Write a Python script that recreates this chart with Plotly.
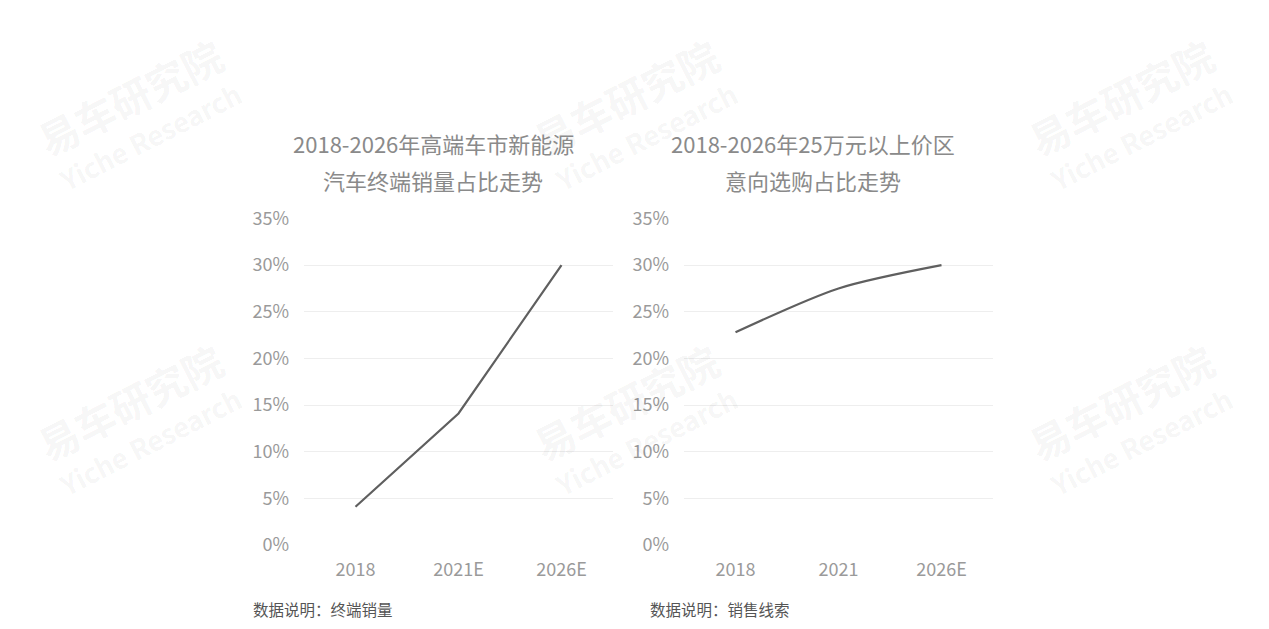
import plotly.graph_objects as go

# Data
left_categories = ["2018", "2021E", "2026E"]
left_values = [0.041, 0.141, 0.30]
right_categories = ["2018", "2021", "2026E"]
right_values = [0.228, 0.275, 0.30]
y_ticks = [0, 0.05, 0.10, 0.15, 0.20, 0.25, 0.30, 0.35]
y_tick_labels = ["0%", "5%", "10%", "15%", "20%", "25%", "30%", "35%"]
left_title = ["2018-2026年高端车市新能源", "汽车终端销量占比走势"]
right_title = ["2018-2026年25万元以上价区", "意向选购占比走势"]
left_note = "数据说明：终端销量"
right_note = "数据说明：销售线索"

W, H = 1269, 629
FONT = "Noto Sans CJK SC"

fig = go.Figure()
fig.add_trace(go.Scatter(x=left_categories, y=left_values, mode="lines",
                         line=dict(color="#5f5f5f", width=2.2),
                         xaxis="x", yaxis="y", showlegend=False, hoverinfo="skip"))
fig.add_trace(go.Scatter(x=right_categories, y=right_values, mode="lines",
                         line=dict(color="#5f5f5f", width=2.2, shape="spline", smoothing=0.8),
                         xaxis="x2", yaxis="y2", showlegend=False, hoverinfo="skip"))

def px_x(v):
    return v / W

def px_y(v):
    return 1 - v / H

ydom = [px_y(545), px_y(218.5)]
yax = dict(range=[0, 0.35], tickvals=y_ticks, ticktext=y_tick_labels,
           showgrid=True, gridcolor="#eeeeee", gridwidth=1, zeroline=False,
           showline=False, ticks="", ticklabelstandoff=14, automargin=False,
           tickfont=dict(family=FONT, size=18, color="#9a9a9a"), domain=ydom,
           fixedrange=True)
xax = dict(type="category", range=[-0.5, 2.5], showgrid=False, zeroline=False,
           showline=False, ticks="", ticklabelstandoff=12, automargin=False,
           tickfont=dict(family=FONT, size=18, color="#9a9a9a"), fixedrange=True)

annotations = []
# Watermarks
for cx in [130, 626, 1121]:
    for cy in [97, 402]:
        annotations.append(dict(
            x=px_x(cx), y=px_y(cy), xref="paper", yref="paper",
            text="<b>易车研究院</b>", showarrow=False, textangle=-27,
            font=dict(family=FONT, size=40, color="rgba(0,0,0,0.055)"),
            xanchor="center", yanchor="middle"))
        annotations.append(dict(
            x=px_x(cx + 20), y=px_y(cy + 39), xref="paper", yref="paper",
            text="<b>Yiche Research</b>", showarrow=False, textangle=-27,
            font=dict(family=FONT, size=27, color="rgba(0,0,0,0.055)"),
            xanchor="center", yanchor="middle"))

# Titles
for cx, lines in [(433, left_title), (813, right_title)]:
    for ly, t in zip([143, 180], lines):
        annotations.append(dict(x=px_x(cx), y=px_y(ly), xref="paper", yref="paper",
                                text=t, showarrow=False,
                                font=dict(family=FONT, size=22, color="#8a8a8a"),
                                xanchor="center", yanchor="middle"))

# Notes
for nx, t in [(251, left_note), (648, right_note)]:
    annotations.append(dict(x=px_x(nx), y=px_y(609), xref="paper", yref="paper",
                            text=t, showarrow=False,
                            font=dict(family=FONT, size=15.5, color="#555555"),
                            xanchor="left", yanchor="middle"))

fig.update_layout(
    width=W, height=H,
    margin=dict(l=0, r=0, t=0, b=0, autoexpand=False),
    paper_bgcolor="white", plot_bgcolor="white",
    xaxis=dict(xax, domain=[px_x(304), px_x(613)], anchor="y"),
    yaxis=dict(yax, anchor="x"),
    xaxis2=dict(xax, domain=[px_x(684), px_x(993)], anchor="y2"),
    yaxis2=dict(yax, anchor="x2"),
    annotations=annotations,
    showlegend=False,
)

fig.write_html("out.html", config={"displayModeBar": False})
